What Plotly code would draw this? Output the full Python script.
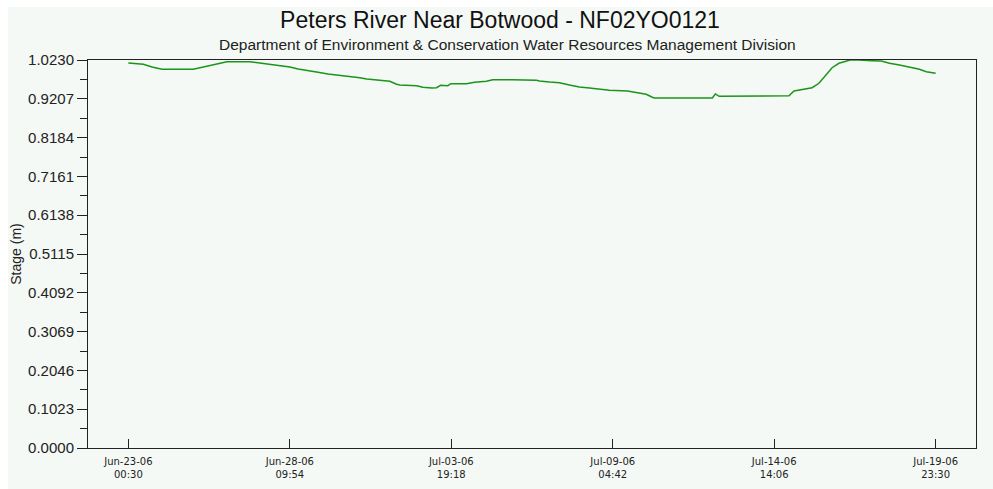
import pandas as pd
import plotly.graph_objects as go

# Stage readings, Peters River near Botwood (station NF02YO0121)
times = [
    "2006-06-23 00:30", "2006-06-23 06:00", "2006-06-23 12:30", "2006-06-23 19:30",
    "2006-06-24 03:30", "2006-06-25 04:30", "2006-06-25 15:30", "2006-06-26 02:00",
    "2006-06-26 07:30", "2006-06-27 02:00", "2006-06-27 10:00", "2006-06-27 18:00",
    "2006-06-28 02:00", "2006-06-28 10:00", "2006-06-28 16:30", "2006-06-29 00:30",
    "2006-06-29 08:30", "2006-06-29 16:30", "2006-06-30 00:30", "2006-06-30 08:30",
    "2006-06-30 18:00", "2006-06-30 23:30", "2006-07-01 10:00", "2006-07-01 18:00",
    "2006-07-01 23:30", "2006-07-02 02:00", "2006-07-02 15:30", "2006-07-02 20:30",
    "2006-07-03 03:30", "2006-07-03 07:30", "2006-07-03 10:45", "2006-07-03 16:30",
    "2006-07-03 19:00", "2006-07-04 07:30", "2006-07-04 14:00", "2006-07-04 23:30",
    "2006-07-05 04:30", "2006-07-05 15:30", "2006-07-05 17:00", "2006-07-05 20:30",
    "2006-07-06 15:30", "2006-07-06 18:00", "2006-07-07 02:00", "2006-07-07 10:00",
    "2006-07-07 18:00", "2006-07-08 02:00", "2006-07-08 10:00", "2006-07-08 18:00",
    "2006-07-09 02:00", "2006-07-09 16:30", "2006-07-09 23:30", "2006-07-10 07:30",
    "2006-07-10 12:30", "2006-07-10 14:00", "2006-07-12 12:30", "2006-07-12 15:00",
    "2006-07-12 18:00", "2006-07-13 08:30", "2006-07-13 10:00", "2006-07-15 02:00",
    "2006-07-15 06:00", "2006-07-15 15:30", "2006-07-15 20:30", "2006-07-16 02:00",
    "2006-07-16 07:30", "2006-07-16 12:30", "2006-07-16 18:00", "2006-07-17 00:30",
    "2006-07-17 03:00", "2006-07-17 10:00", "2006-07-17 17:00", "2006-07-17 20:00",
    "2006-07-18 04:00", "2006-07-18 10:30", "2006-07-18 18:30", "2006-07-19 02:30",
    "2006-07-19 10:30", "2006-07-19 16:00", "2006-07-19 23:30",
]
stage_m = [
    1.0151, 1.0143, 1.0117, 1.0045,
    0.9985, 0.9985, 1.0072, 1.0159,
    1.0185, 1.0185, 1.0151, 1.0098,
    1.0072, 1.0045, 0.9993, 0.9940,
    0.9906, 0.9861, 0.9835, 0.9800,
    0.9763, 0.9729, 0.9695, 0.9668,
    0.9589, 0.9571, 0.9552, 0.9510,
    0.9492, 0.9500, 0.9563, 0.9552,
    0.9605, 0.9605, 0.9642, 0.9668,
    0.9711, 0.9711, 0.9729, 0.9711,
    0.9695, 0.9676, 0.9650, 0.9632,
    0.9571, 0.9518, 0.9492, 0.9457,
    0.9431, 0.9413, 0.9368, 0.9326,
    0.9247, 0.9228, 0.9228, 0.9334,
    0.9273, 0.9273, 0.9289, 0.9289,
    0.9413, 0.9457, 0.9500, 0.9616,
    0.9835, 1.0027, 1.0143, 1.0212,
    1.0230, 1.0230, 1.0230, 1.0212,
    1.0204, 1.0143, 1.0098, 1.0045,
    0.9985, 0.9922, 0.9879,
]

# Axis ticks
x_tick_times = [
    "2006-06-23 00:30", "2006-06-28 09:54", "2006-07-03 19:18",
    "2006-07-09 04:42", "2006-07-14 14:06", "2006-07-19 23:30",
]
x_tick_labels = [
    "Jun-23-06<br>00:30", "Jun-28-06<br>09:54", "Jul-03-06<br>19:18",
    "Jul-09-06<br>04:42", "Jul-14-06<br>14:06", "Jul-19-06<br>23:30",
]
y_max = 1.0230
y_step = 0.1023
y_tick_vals = [round(i * y_step, 4) for i in range(11)]
y_tick_labels = [f"{v:.4f}" for v in y_tick_vals]

title_text = "Peters River Near Botwood - NF02YO0121"
subtitle_text = "Department of Environment &amp; Conservation Water Resources Management Division"

t = pd.to_datetime(times)
span = t[-1] - t[0]
x_range = [t[0] - 0.05 * span, t[-1] + 0.05 * span]

BG = "#f5f9f5"
INK = "#222222"
FONT = "Arial, 'Liberation Sans', sans-serif"

fig = go.Figure()
fig.add_trace(go.Scatter(
    x=t, y=stage_m, mode="lines",
    line=dict(color="#1a941a", width=1.5),
    hoverinfo="x+y", showlegend=False,
))

fig.update_layout(
    width=993, height=489,
    margin=dict(l=88, r=17, t=60, b=41),
    paper_bgcolor="white",
    plot_bgcolor=BG,
    font=dict(family=FONT, color=INK),
    title=dict(
        text=title_text, x=500 / 993, xref="container", xanchor="center",
        y=1 - 20 / 489, yref="container", yanchor="middle",
        font=dict(size=23, color="#111111", family=FONT),
    ),
    annotations=[dict(
        text=subtitle_text, xref="paper", yref="paper",
        x=(507 - 88) / 888, y=(448 - 45) / 388,
        xanchor="center", yanchor="middle", showarrow=False,
        font=dict(size=15.5, color=INK, family=FONT),
    )],
    shapes=[dict(
        type="rect", xref="paper", yref="paper", layer="below",
        x0=(8 - 88) / 888, x1=(993 - 88) / 888,
        y0=(448 - 489) / 388, y1=(448 - 7) / 388,
        fillcolor=BG, line=dict(width=0),
    )],
    xaxis=dict(
        type="date", range=x_range, automargin=False,
        tickmode="array", tickvals=pd.to_datetime(x_tick_times), ticktext=x_tick_labels,
        ticks="inside", ticklen=9, tickcolor=INK, tickwidth=1,
        showline=True, linecolor=INK, linewidth=1, mirror=True,
        showgrid=False, zeroline=False,
        tickfont=dict(family="'DejaVu Sans', Verdana, sans-serif", size=10, color=INK),
        ticklabelstandoff=4,
    ),
    yaxis=dict(
        range=[0, y_max], automargin=False,
        tickmode="array", tickvals=y_tick_vals, ticktext=y_tick_labels,
        ticks="outside", ticklen=10, tickcolor=INK, tickwidth=1,
        minor=dict(ticks="outside", ticklen=7, tickcolor=INK, tick0=0, dtick=y_step / 2),
        showline=True, linecolor=INK, linewidth=1, mirror=True,
        showgrid=False, zeroline=False,
        tickfont=dict(size=15, color=INK, family=FONT),
        title=dict(text="Stage (m)", font=dict(size=14, color=INK, family=FONT), standoff=3),
    ),
)

fig.write_html("out.html")
